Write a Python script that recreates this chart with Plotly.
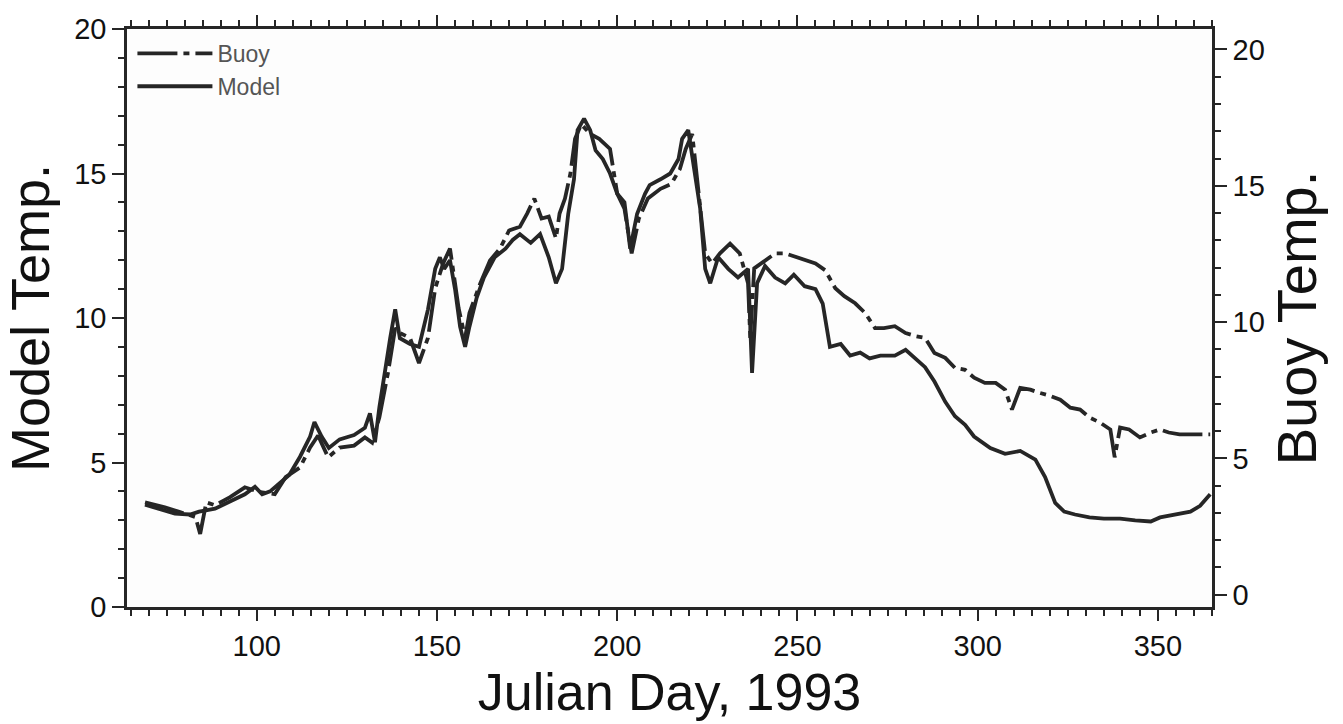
import plotly.graph_objects as go

# ---- data ----
model_day = [69,73,77.3,81.5,84,88.4,92.6,96.7,99.5,101.5,
             103.7,106.5,109,112,114.8,116,118,120,123,127,
             130,131.4,132.8,134,135.6,137,138.4,139.7,142.5,145,
             147.5,149.5,150.8,152,153.6,155,156.4,157.8,159,161,
             163,166,169,171,173,176,178.6,181,183,184.7,
             186.4,188,189,190.8,192.5,194,196,198,200,202,
             203.6,205.5,207.7,209,212,214.7,217,218,219.7,221.6,
             223,224.4,225.8,228,230.8,233.5,236.3,237.4,238.8,241,
             243.8,246.6,249,252,255,257,259,262,264.6,267.4,
             270,273,277,280,282.6,285.4,288,291,293.7,296.5,
             299,303.5,307.6,311.8,316,318.7,321.5,324,327,331,
             335,339.5,343.7,348,350.6,354.8,359,361.7,364.5]
model_temp = [3.54,3.4,3.23,3.2,3.3,3.4,3.64,3.9,4.16,3.9,
              4.0,4.3,4.57,5.2,5.9,6.4,5.9,5.5,5.8,5.95,
              6.2,6.7,5.7,6.9,8.3,9.3,10.3,9.3,9.1,9.0,
              10.3,11.7,12.1,11.7,12.0,11.0,9.7,9.0,9.7,10.7,
              11.4,12.1,12.4,12.7,12.9,12.6,12.9,12.1,11.2,11.7,
              13.6,14.8,16.5,16.9,16.5,15.8,15.5,15.0,14.3,14.0,
              12.4,13.6,14.3,14.6,14.8,15.0,15.5,16.2,16.5,15.0,
              13.8,11.7,11.2,12.1,11.7,11.4,11.7,8.1,11.2,11.8,
              11.4,11.2,11.5,11.1,11.0,10.5,9.0,9.1,8.7,8.8,
              8.6,8.7,8.7,8.9,8.6,8.3,7.8,7.1,6.6,6.3,
              5.9,5.5,5.3,5.4,5.1,4.5,3.6,3.3,3.2,3.1,
              3.06,3.06,3.0,2.96,3.1,3.2,3.3,3.5,3.9]

buoy_day = [69,74.5,78.7,83,84.3,86,88.4,92.6,96.7,101,
            105,108,112,114.8,117,119.8,123,127,130,132,
            134,136.4,138.4,139.7,142.5,145,147.5,149.5,151.7,153.6,
            156,157.8,159,162,164.7,167.5,170,173,175,177,
            179,181,183,184,185.5,187,188.3,190,192.5,195,
            198,200,202,204,206,208.5,212,215,217.4,219,
            220.8,222.4,224.4,226.3,228.5,231.3,234,236.3,236.9,238,
            241,243.8,246.6,249,252,255,257.7,260.5,263,266,
            268.8,271.5,274,277,280,282.6,285.4,288,291,293.7,
            296.5,299,302,305,307.6,309.5,311.8,314.6,317,320,
            322.9,325.7,328.4,331,334,336.8,338,339.5,342,345,
            348,350.6,353,356,360,364.5]
buoy_temp = [3.39,3.21,3.03,2.85,2.23,3.39,3.28,3.58,3.94,3.76,
             3.69,4.31,4.67,5.40,5.84,5.04,5.40,5.47,5.77,5.58,
             6.50,8.14,9.78,9.60,9.42,8.50,9.42,11.24,12.15,12.70,
             10.51,9.42,10.33,11.42,12.26,12.70,13.36,13.50,13.98,14.53,
             13.80,13.87,13.07,13.98,14.53,15.44,16.72,17.26,16.90,16.72,
             16.35,14.71,14.16,12.52,13.80,14.53,14.89,15.07,15.62,16.35,
             16.90,14.89,12.52,12.15,12.52,12.88,12.52,11.42,9.42,11.97,
             12.26,12.52,12.52,12.41,12.26,12.15,11.90,11.24,10.95,10.69,
             10.33,9.78,9.78,9.85,9.60,9.49,9.42,8.87,8.69,8.32,
             8.25,7.96,7.77,7.77,7.52,6.79,7.59,7.52,7.41,7.30,
             7.15,6.86,6.79,6.50,6.31,6.06,5.04,6.13,6.06,5.77,
             5.95,6.06,5.95,5.88,5.88,5.88]

x_ticks = [100, 150, 200, 250, 300, 350]
y_ticks = [0, 5, 10, 15, 20]

INK = "#262626"
FONT = "Liberation Sans, Arial, sans-serif"

fig = go.Figure()
fig.add_trace(go.Scatter(
    x=buoy_day, y=buoy_temp, name="Buoy", mode="lines", yaxis="y2",
    line=dict(color=INK, width=3.8, dash="40px,6px,6px,6px"),
))
fig.add_trace(go.Scatter(
    x=model_day, y=model_temp, name="Model", mode="lines",
    line=dict(color=INK, width=3.8),
))

fig.update_layout(
    width=1343, height=724,
    margin=dict(l=127, r=131, t=29, b=113),
    paper_bgcolor="white", plot_bgcolor="#fdfdfd",
    font=dict(family=FONT, color="#111", size=28),
    showlegend=True,
    legend=dict(x=0.005, y=0.995, xanchor="left", yanchor="top",
                bgcolor="rgba(0,0,0,0)", font=dict(size=23, color="#555"),
                tracegroupgap=0, itemwidth=75),
    xaxis=dict(
        range=[64, 365], tickvals=x_ticks, ticks="outside", ticklen=11,
        tickwidth=2, tickcolor=INK, showline=True, linecolor=INK, linewidth=2.5,
        mirror="ticks", showgrid=False, zeroline=False,
        tickfont=dict(size=29, color="#111"),
        minor=dict(dtick=5, tick0=0, ticks="outside", ticklen=6, tickcolor=INK, tickwidth=1.5),
        title=dict(text="Julian Day, 1993", font=dict(size=52, color="#111"), standoff=14),
    ),
    yaxis=dict(
        range=[0, 20], tickvals=y_ticks, ticks="outside", ticklen=12,
        tickwidth=2, tickcolor=INK, showline=True, linecolor=INK, linewidth=2.5,
        showgrid=False, zeroline=False,
        tickfont=dict(size=29, color="#111"),
        minor=dict(dtick=1, ticks="outside", ticklen=6, tickcolor=INK, tickwidth=1.5),
        title=dict(text="Model Temp.", font=dict(size=54, color="#111"), standoff=10),
    ),
    yaxis2=dict(
        range=[-0.45, 20.75], tickvals=y_ticks, overlaying="y", side="right",
        ticks="outside", ticklen=12, tickwidth=2, tickcolor=INK,
        showline=True, linecolor=INK, linewidth=2.5,
        showgrid=False, zeroline=False,
        tickfont=dict(size=29, color="#111"),
        minor=dict(dtick=1, ticks="outside", ticklen=6, tickcolor=INK, tickwidth=1.5),
        title=dict(text="Buoy Temp.", font=dict(size=56, color="#111"), standoff=10),
    ),
)

fig.write_html("out.html")
